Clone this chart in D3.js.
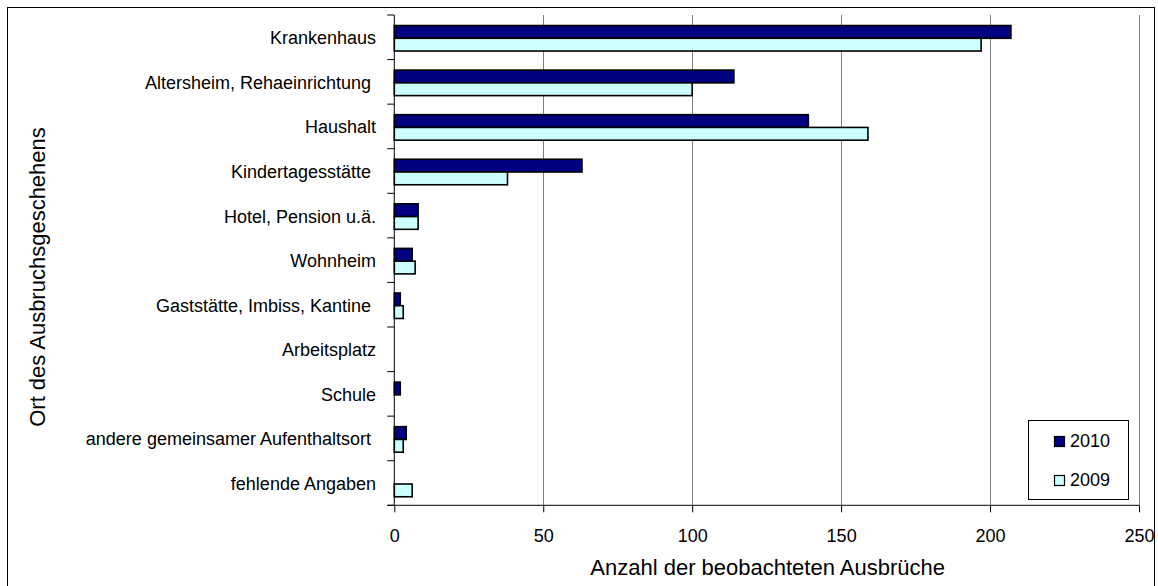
<!DOCTYPE html>
<html>
<head>
<meta charset="utf-8">
<script src="https://cdn.jsdelivr.net/npm/d3@7"></script>
<style>
  body { margin: 0; background: #fff; }
  svg { display: block; font-family: "Liberation Sans", Arial, Helvetica, sans-serif; }
  text.keep { white-space: pre; }
</style>
</head>
<body>
<svg id="chart" width="1158" height="586"></svg>
<script>
// Ausbruchsorte, Anzahl der beobachteten Ausbrüche 2010 / 2009
const categories = [
  "Krankenhaus",
  "Altersheim, Rehaeinrichtung ",
  "Haushalt",
  "Kindertagesstätte ",
  "Hotel, Pension u.ä.",
  "Wohnheim",
  "Gaststätte, Imbiss, Kantine ",
  "Arbeitsplatz",
  "Schule",
  "andere gemeinsamer Aufenthaltsort ",
  "fehlende Angaben"
];
const seriesNames = ["2010", "2009"];
const values2010 = [207, 114, 139, 63, 8, 6, 2, 0, 2, 4, 0];
const values2009 = [197, 100, 159, 38, 8, 7, 3, 0, 0, 3, 6];
const xTicks = [0, 50, 100, 150, 200, 250];
const xTitle = "Anzahl der beobachteten Ausbrüche";
const yTitle = "Ort des Ausbruchsgeschehens";

const seriesValues = { "2010": values2010, "2009": values2009 };
const colors = { "2010": "#000080", "2009": "#CCFFFF" };

const rows = categories.map((c, i) => ({
  cat: c,
  vals: seriesNames.map(s => ({ s, v: seriesValues[s][i] }))
}));

const svg = d3.select("#chart");
const W = 1158, H = 586;
const plot = { left: 394.3, right: 1139, top: 15, bottom: 505.3 };

// outer frame
svg.append("rect")
  .attr("x", 7.5).attr("y", 7.5)
  .attr("width", 1147).attr("height", 600)
  .attr("fill", "none").attr("stroke", "#000").attr("stroke-width", 1);

const x = d3.scaleLinear().domain([0, 250]).range([plot.left, plot.right]);
const y = d3.scaleBand().domain(categories).range([plot.top, plot.bottom]).paddingInner(0).paddingOuter(0);
const barH = 12.75;
const sub = d3.scaleBand().domain(seriesNames)
  .range([0, y.bandwidth()])
  .paddingInner(0)
  .paddingOuter((y.bandwidth() - 2 * barH) / 2 / barH);

// vertical gridlines
svg.append("g").selectAll("line")
  .data(xTicks.filter(t => t > 0))
  .join("line")
  .attr("x1", d => Math.round(x(d)) + 0.5).attr("x2", d => Math.round(x(d)) + 0.5)
  .attr("y1", plot.top).attr("y2", plot.bottom)
  .attr("stroke", "#808080").attr("stroke-width", 1);

// bars
const g = svg.append("g");
g.selectAll("g.row")
  .data(rows)
  .join("g").attr("class", "row")
  .attr("transform", d => `translate(0,${y(d.cat) + 1})`)
  .selectAll("rect")
  .data(d => d.vals.filter(e => e.v > 0))
  .join("rect")
  .attr("x", x(0))
  .attr("y", d => sub(d.s))
  .attr("width", d => x(d.v) - x(0))
  .attr("height", sub.bandwidth())
  .attr("fill", d => colors[d.s])
  .attr("stroke", "#000")
  .attr("stroke-width", 1.6);

// x axis
const xAxis = d3.axisBottom(x).tickValues(xTicks).tickSize(7).tickPadding(14).tickSizeOuter(0);
const gx = svg.append("g").attr("transform", `translate(0,${plot.bottom})`).call(xAxis);
gx.select(".domain").remove();
gx.append("line").attr("x1", plot.left - 7).attr("x2", plot.right).attr("y1", 0).attr("y2", 0)
  .attr("stroke", "#000").attr("stroke-width", 1);
gx.selectAll(".tick line").attr("stroke", "#000");
gx.selectAll(".tick text")
  .attr("fill", "#000")
  .attr("font-size", 18)
  .attr("font-family", "Liberation Sans, Arial, sans-serif")
  .attr("dy", null)
  .attr("y", 36.4);

// y axis: line and ticks at category boundaries
const boundaries = categories.map(c => y(c)).concat([plot.bottom]);
svg.append("line").attr("x1", plot.left).attr("x2", plot.left)
  .attr("y1", plot.top).attr("y2", plot.bottom)
  .attr("stroke", "#000").attr("stroke-width", 1);
svg.append("g").selectAll("line")
  .data(boundaries)
  .join("line")
  .attr("x1", plot.left - 7).attr("x2", plot.left)
  .attr("y1", d => d).attr("y2", d => d)
  .attr("stroke", "#000").attr("stroke-width", 1);

// category labels
svg.append("g").selectAll("text")
  .data(categories)
  .join("text")
  .attr("class", "keep")
  .attr("xml:space", "preserve")
  .attr("x", 376)
  .attr("y", d => y(d) + y.bandwidth() / 2 + 7)
  .attr("text-anchor", "end")
  .attr("font-size", 18)
  .attr("fill", "#000")
  .text(d => d);

// axis titles
svg.append("text")
  .attr("x", (plot.left + plot.right) / 2 + 1)
  .attr("y", 575)
  .attr("text-anchor", "middle")
  .attr("font-size", 22)
  .attr("fill", "#000")
  .text(xTitle);

svg.append("text")
  .attr("transform", `translate(45,277) rotate(-90)`)
  .attr("text-anchor", "middle")
  .attr("font-size", 22)
  .attr("fill", "#000")
  .text(yTitle);

// legend
const lg = svg.append("g");
lg.append("rect")
  .attr("x", 1028.5).attr("y", 420.5)
  .attr("width", 100).attr("height", 79)
  .attr("fill", "#fff").attr("stroke", "#000").attr("stroke-width", 1);
const legendRows = [{ s: "2010", yb: 447 }, { s: "2009", yb: 486 }];
lg.selectAll("rect.sw")
  .data(legendRows)
  .join("rect").attr("class", "sw")
  .attr("x", 1054.5).attr("y", d => d.yb - 10.5)
  .attr("width", 10).attr("height", 10)
  .attr("fill", d => colors[d.s])
  .attr("stroke", "#000").attr("stroke-width", 1.2);
lg.selectAll("text")
  .data(legendRows)
  .join("text")
  .attr("x", 1070).attr("y", d => d.yb)
  .attr("font-size", 18)
  .attr("fill", "#000")
  .text(d => d.s);
</script>
</body>
</html>
